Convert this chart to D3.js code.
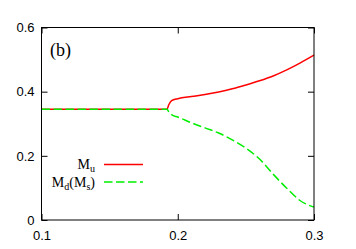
<!DOCTYPE html>
<html>
<head>
<meta charset="utf-8">
<script src="https://cdn.jsdelivr.net/npm/d3@7"></script>
<style>
body { margin: 0; background: #fff; }
.tick text { font-family: "Liberation Sans", Arial, sans-serif; font-size: 13px; }
.serif { font-family: "Liberation Serif", "Times New Roman", serif; }
</style>
</head>
<body>
<div id="chart"></div>
<script>
let width = 356, height = 249;
let padL = 41.5, padR = 314, padT = 27.5, padB = 220;

// red solid curve, M_u
let muX = [0.1, 0.192, 0.1935, 0.1955, 0.2, 0.21, 0.22, 0.23, 0.24, 0.25, 0.26, 0.27, 0.28, 0.29, 0.3];
let muY = [0.345, 0.345, 0.36, 0.372, 0.378, 0.385, 0.391, 0.399, 0.409, 0.421, 0.434, 0.449, 0.468, 0.49, 0.514];

// green dashed curve, M_d(M_s)
let mdX = [0.1, 0.192, 0.194, 0.196, 0.2, 0.21, 0.22, 0.23, 0.24, 0.25, 0.26, 0.27, 0.28, 0.29, 0.3];
let mdY = [0.345, 0.345, 0.334, 0.327, 0.321, 0.303, 0.287, 0.271, 0.25, 0.224, 0.19, 0.143, 0.099, 0.06, 0.04];

let xTicks = [0.1, 0.2, 0.3];
let yTicks = [0, 0.2, 0.4, 0.6];

let svg = d3.select("#chart")
.append("svg")
.attr("width", width)
.attr("height", height);

let x = d3.scaleLinear().domain([0.1, 0.3]).range([padL, padR]);
let y = d3.scaleLinear().domain([0, 0.6]).range([padB, padT]);

let fmt = d3.format(".1f");
let fmtY = d => d == 0 ? "0" : fmt(d);

// axes with inward ticks, mirrored on top/right
svg.append("g")
.attr("transform", `translate(0,${padB})`)
.call(d3.axisBottom(x).tickValues(xTicks).tickFormat(fmt).tickSizeInner(-6).tickSizeOuter(0).tickPadding(11))
.call(g => g.select(".domain").remove());

svg.append("g")
.attr("transform", `translate(${padL},0)`)
.call(d3.axisLeft(y).tickValues(yTicks).tickFormat(fmtY).tickSizeInner(-6).tickSizeOuter(0).tickPadding(7))
.call(g => g.select(".domain").remove());

svg.append("g")
.attr("transform", `translate(0,${padT})`)
.call(d3.axisTop(x).tickValues(xTicks).tickFormat("").tickSizeInner(-6).tickSizeOuter(0))
.call(g => g.select(".domain").remove());

svg.append("g")
.attr("transform", `translate(${padR},0)`)
.call(d3.axisRight(y).tickValues(yTicks).tickFormat("").tickSizeInner(-6).tickSizeOuter(0))
.call(g => g.select(".domain").remove());

svg.selectAll(".tick line").attr("stroke", "#000");

let line = d3.line()
.x(d => x(d[0]))
.y(d => y(d[1]))
.curve(d3.curveMonotoneX);

svg.append("path")
.datum(d3.zip(muX, muY))
.attr("d", line)
.attr("fill", "none")
.attr("stroke", "#ff0000")
.attr("stroke-width", 1.5);

svg.append("path")
.datum(d3.zip(mdX, mdY))
.attr("d", line)
.attr("fill", "none")
.attr("stroke", "#00ee00")
.attr("stroke-width", 1.5)
.attr("stroke-dasharray", "8.5,3.5");

// frame
svg.append("rect")
.attr("x", padL)
.attr("y", padT)
.attr("width", padR - padL)
.attr("height", padB - padT)
.attr("fill", "none")
.attr("stroke", "#000")
.attr("stroke-width", 1);

svg.append("text")
.attr("class", "serif")
.attr("x", 50)
.attr("y", 56)
.style("font-size", "18px")
.text("(b)");

// legend
let legend = [
  {name: "M", sub: "u", color: "#ff0000", dash: null, y: 164.5},
  {name: "M", sub: "d", rest: "(M", sub2: "s", end: ")", color: "#00ee00", dash: "8.5,3.5", y: 182}
];

legend.forEach(l => {
  let t = svg.append("text")
  .attr("class", "serif")
  .attr("x", 95)
  .attr("y", l.y + 4.5)
  .attr("text-anchor", "end")
  .style("font-size", "14px");
  t.append("tspan").text(l.name);
  t.append("tspan").attr("dy", 3).style("font-size", "10px").text(l.sub);
  if (l.rest) {
    t.append("tspan").attr("dy", -3).text(l.rest);
    t.append("tspan").attr("dy", 3).style("font-size", "10px").text(l.sub2);
    t.append("tspan").attr("dy", -3).text(l.end);
  }
  svg.append("line")
  .attr("x1", 104)
  .attr("x2", 143)
  .attr("y1", l.y)
  .attr("y2", l.y)
  .attr("stroke", l.color)
  .attr("stroke-width", 1.5)
  .attr("stroke-dasharray", l.dash);
});
</script>
</body>
</html>
